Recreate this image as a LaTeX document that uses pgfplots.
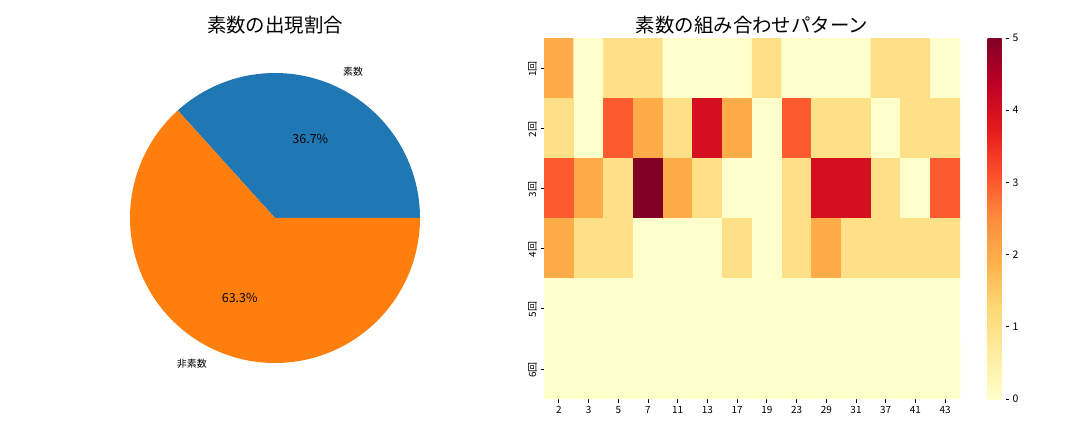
\documentclass[border=0pt]{standalone}
\usepackage{fontspec}
\setmainfont{Noto Sans CJK JP}
\usepackage{pgfplots}
\pgfplotsset{compat=1.18}

\definecolor{pieblue}{HTML}{1F77B4}
\definecolor{pieorange}{HTML}{FF7F0E}

\pgfplotsset{
  colormap={YlOrRd}{rgb255=(255,255,204) rgb255=(255,237,160) rgb255=(254,217,118)
    rgb255=(254,178,76) rgb255=(253,141,60) rgb255=(252,78,42) rgb255=(227,26,28)
    rgb255=(189,0,38) rgb255=(128,0,38)},
}

% share of primes (percent)
\def\primeshare{36.7}

\begin{document}
\begin{tikzpicture}[x=1bp,y=1bp]
\useasboundingbox (0,0) rectangle (1080,432);

% ---- pie ----
\pgfmathsetmacro\angA{3.6*\primeshare}
\pgfmathsetmacro\midA{\angA/2}
\pgfmathsetmacro\midB{(\angA+360)/2}
\begin{axis}[at={(130bp,69bp)}, anchor=south west, scale only axis,
    width=290bp, height=290bp, xmin=-1, xmax=1, ymin=-1, ymax=1,
    hide axis, clip=false]
  \addplot[draw=none, fill=pieblue, domain=0:\angA, samples=120]
    ({cos(x)},{sin(x)}) -- (axis cs:0,0) -- cycle;
  \addplot[draw=none, fill=pieorange, domain=\angA:360, samples=200]
    ({cos(x)},{sin(x)}) -- (axis cs:0,0) -- cycle;
  \node[font=\fontsize{12.5}{14}\selectfont] at (axis cs:{0.6*cos(\midA)},{0.6*sin(\midA)}) {36.7\%};
  \node[font=\fontsize{12.5}{14}\selectfont] at (axis cs:{0.6*cos(\midB)},{0.6*sin(\midB)}) {63.3\%};
  \node[anchor=west, font=\fontsize{10}{12}\selectfont] at (axis cs:{1.1*cos(\midA)},{1.1*sin(\midA)}) {素数};
  \node[anchor=east, font=\fontsize{10}{12}\selectfont] at (axis cs:{1.1*cos(\midB)},{1.1*sin(\midB)}) {非素数};
\end{axis}
\node[font=\fontsize{19.5}{22}\selectfont] at (275,407) {素数の出現割合};

% ---- heatmap ----
\begin{axis}[at={(544bp,33bp)}, anchor=south west, scale only axis,
    width=416bp, height=361bp,
    xmin=-0.5, xmax=13.5, ymin=-0.5, ymax=5.5, y dir=reverse,
    enlargelimits=false,
    axis x line*=bottom, axis y line*=left, axis line style={draw=none},
    tick align=outside, major tick length=3.5bp,
    tick style={black, line width=0.8bp},
    xtick={0,...,13}, xticklabels={2,3,5,7,11,13,17,19,23,29,31,37,41,43},
    ytick={0,...,5}, yticklabels={1回,2回,3回,4回,5回,6回},
    yticklabel style={rotate=90, anchor=south, xshift=-1bp},
    tick label style={font=\fontsize{10}{12}\selectfont},
    colormap name=YlOrRd, point meta min=0, point meta max=5,
    colorbar,
    colorbar style={at={(parent axis.north east)}, anchor=north west, xshift=19bp,
      width=18bp, height=361bp, scale only axis,
      ytick={0,...,5}, xtick=\empty, ytick pos=right, yticklabel pos=right,
      axis line style={draw=none},
      tick align=outside, major tick length=3.5bp,
      tick style={black, line width=0.8bp},
      yticklabel style={font=\fontsize{10.5}{12}\selectfont},
      /pgf/number format/assume math mode=true},
    /pgf/number format/assume math mode=true]
  \addplot[matrix plot*, mesh/cols=14, point meta=explicit] table[meta=v] {
x y v
0 0 2
1 0 0
2 0 1
3 0 1
4 0 0
5 0 0
6 0 0
7 0 1
8 0 0
9 0 0
10 0 0
11 0 1
12 0 1
13 0 0
0 1 1
1 1 0
2 1 3
3 1 2
4 1 1
5 1 4
6 1 2
7 1 0
8 1 3
9 1 1
10 1 1
11 1 0
12 1 1
13 1 1
0 2 3
1 2 2
2 2 1
3 2 5
4 2 2
5 2 1
6 2 0
7 2 0
8 2 1
9 2 4
10 2 4
11 2 1
12 2 0
13 2 3
0 3 2
1 3 1
2 3 1
3 3 0
4 3 0
5 3 0
6 3 1
7 3 0
8 3 1
9 3 2
10 3 1
11 3 1
12 3 1
13 3 1
0 4 0
1 4 0
2 4 0
3 4 0
4 4 0
5 4 0
6 4 0
7 4 0
8 4 0
9 4 0
10 4 0
11 4 0
12 4 0
13 4 0
0 5 0
1 5 0
2 5 0
3 5 0
4 5 0
5 5 0
6 5 0
7 5 0
8 5 0
9 5 0
10 5 0
11 5 0
12 5 0
13 5 0
};
\end{axis}
\node[font=\fontsize{19.5}{22}\selectfont] at (752,407) {素数の組み合わせパターン};
\end{tikzpicture}
\end{document}
